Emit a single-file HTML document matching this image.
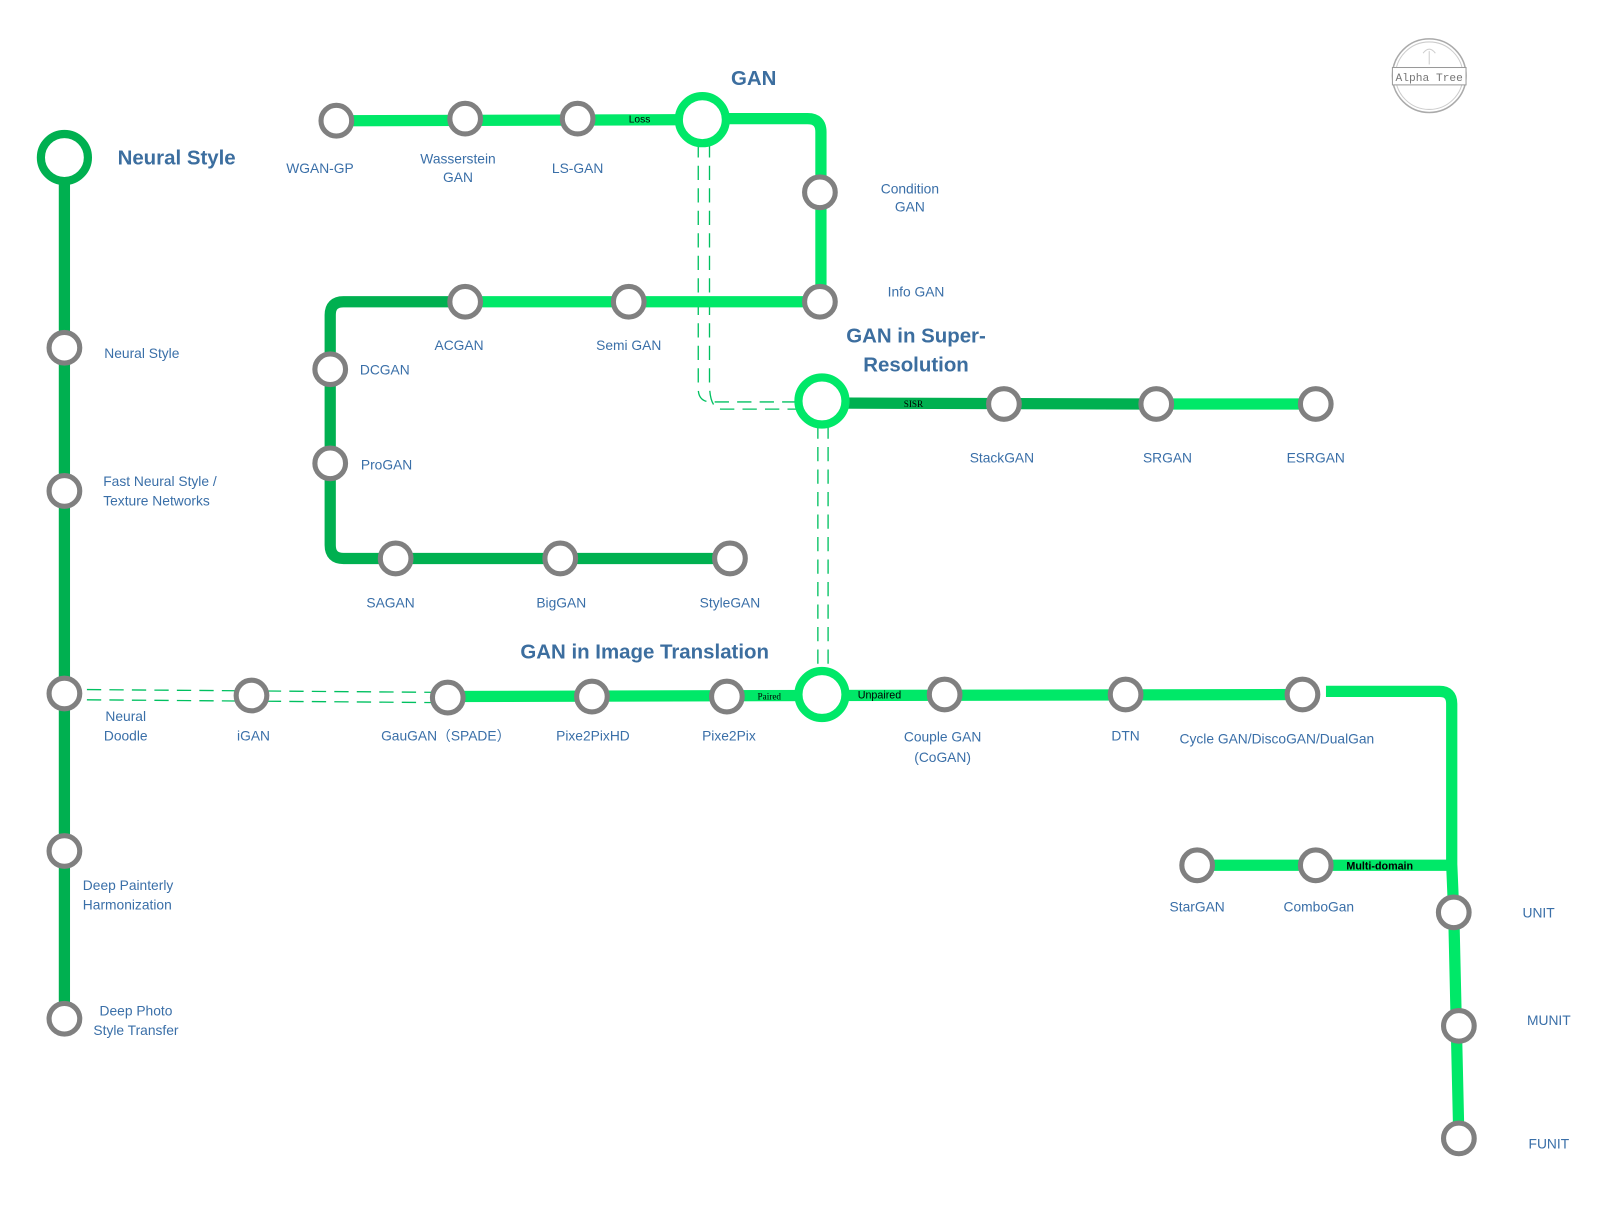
<!DOCTYPE html>
<html><head><meta charset="utf-8"><style>
html,body{margin:0;padding:0;background:#fff;}
svg{display:block;}
text{font-family:"Liberation Sans","Noto Sans CJK SC",sans-serif;}
.l{font-size:13.5px;fill:#3a6fa8;text-anchor:middle;}
.ls{font-size:13.5px;fill:#3a6fa8;}
.t{font-size:20px;font-weight:bold;fill:#3c6e9f;}
.n{fill:#fff;stroke:#808080;stroke-width:5;}
.b{fill:none;stroke:#00e868;stroke-width:11;}
.d{fill:none;stroke:#00b050;stroke-width:11;}
.dash{fill:none;stroke:#00c060;stroke-width:1.3;stroke-dasharray:14,8;}
.tag{font-size:10px;fill:#000;}
</style></head><body>
<svg width="1602" height="1210" viewBox="0 0 1567 1183" preserveAspectRatio="none" xmlns="http://www.w3.org/2000/svg">
<path class="dash" d="M63,674 L438,677"/>
<path class="dash" d="M63,684 L438,687"/>
<path class="dash" d="M683,140 L683,380 Q683,393 696,393 L790,393"/>
<path class="dash" d="M694,140 L694,375 Q694,400 706,400 L790,400"/>
<path class="dash" d="M800,415 L800,655"/>
<path class="dash" d="M810,415 L810,655"/>

<path class="d" d="M63,155 L63,995" stroke-width="10"/>
<path class="b" d="M329,118 L687,117"/>
<path class="b" d="M687,116 L790,116 Q803,116 803,129 L803,295"/>
<path class="b" d="M803,295 L455,295"/>
<path class="d" d="M455,295 L336,295 Q323,295 323,308 L323,533 Q323,546 336,546 L714,546"/>
<path class="d" d="M804,394 L1130,395"/>
<path class="b" d="M1130,395 L1287,395"/>
<path class="b" d="M438,681 L804,680 L1275,679"/>
<path class="b" d="M1297,676 L1408,676 Q1420,676 1420,688 L1420,845 L1422,893 L1427,1113"/>
<path class="b" d="M1170,846 L1420,846"/>

<circle cx="63" cy="154" r="23" fill="#fff" stroke="#00b050" stroke-width="8"/>
<circle cx="687" cy="117" r="23" fill="#fff" stroke="#00e868" stroke-width="8"/>
<circle cx="804" cy="392" r="23" fill="#fff" stroke="#00e868" stroke-width="8"/>
<circle cx="804" cy="679" r="23" fill="#fff" stroke="#00e868" stroke-width="8"/>

<g>
<circle class="n" cx="63" cy="340" r="15"/>
<circle class="n" cx="63" cy="480" r="15"/>
<circle class="n" cx="63" cy="678" r="15"/>
<circle class="n" cx="63" cy="832" r="15"/>
<circle class="n" cx="63" cy="996" r="15"/>
<circle class="n" cx="329" cy="118" r="15"/>
<circle class="n" cx="455" cy="116" r="15"/>
<circle class="n" cx="565" cy="116" r="15"/>
<circle class="n" cx="802" cy="188" r="15"/>
<circle class="n" cx="802" cy="295" r="15"/>
<circle class="n" cx="455" cy="295" r="15"/>
<circle class="n" cx="615" cy="295" r="15"/>
<circle class="n" cx="323" cy="361" r="15"/>
<circle class="n" cx="323" cy="453" r="15"/>
<circle class="n" cx="387" cy="546" r="15"/>
<circle class="n" cx="548" cy="546" r="15"/>
<circle class="n" cx="714" cy="546" r="15"/>
<circle class="n" cx="982" cy="395" r="15"/>
<circle class="n" cx="1131" cy="395" r="15"/>
<circle class="n" cx="1287" cy="395" r="15"/>
<circle class="n" cx="246" cy="680" r="15"/>
<circle class="n" cx="438" cy="682" r="15"/>
<circle class="n" cx="579" cy="681" r="15"/>
<circle class="n" cx="711" cy="681" r="15"/>
<circle class="n" cx="924" cy="679" r="15"/>
<circle class="n" cx="1101" cy="679" r="15"/>
<circle class="n" cx="1274" cy="679" r="15"/>
<circle class="n" cx="1171" cy="846" r="15"/>
<circle class="n" cx="1287" cy="846" r="15"/>
<circle class="n" cx="1422" cy="892" r="15"/>
<circle class="n" cx="1427" cy="1003" r="15"/>
<circle class="n" cx="1427" cy="1113" r="15"/>
</g>

<text class="tag" x="615" y="120">Loss</text>
<text class="tag" x="884" y="398" style="font-family:'Liberation Serif',serif;font-size:9px">SISR</text>
<text class="tag" x="741" y="684" style="font-family:'Liberation Serif',serif;font-size:9px">Paired</text>
<text class="tag" x="839" y="683" style="font-size:10.5px">Unpaired</text>
<text class="tag" x="1317" y="850" style="font-size:10.5px;font-weight:bold">Multi-domain</text>

<text class="t" x="115" y="161">Neural Style</text>
<text class="t" x="715" y="83">GAN</text>
<text class="t" x="896" y="335" text-anchor="middle">GAN in Super-</text>
<text class="t" x="896" y="363" text-anchor="middle">Resolution</text>
<text class="t" x="509" y="644">GAN in Image Translation</text>

<text class="ls" x="102" y="350">Neural Style</text>
<text class="ls" x="101" y="475">Fast Neural Style /</text>
<text class="ls" x="101" y="494">Texture Networks</text>
<text class="l" x="123" y="705">Neural</text>
<text class="l" x="123" y="724">Doodle</text>
<text class="ls" x="81" y="870">Deep Painterly</text>
<text class="ls" x="81" y="889">Harmonization</text>
<text class="l" x="133" y="993">Deep Photo</text>
<text class="l" x="133" y="1012">Style Transfer</text>
<text class="l" x="313" y="169">WGAN-GP</text>
<text class="l" x="448" y="160">Wasserstein</text>
<text class="l" x="448" y="178">GAN</text>
<text class="l" x="565" y="169">LS-GAN</text>
<text class="l" x="890" y="189">Condition</text>
<text class="l" x="890" y="207">GAN</text>
<text class="l" x="896" y="290">Info GAN</text>
<text class="l" x="449" y="342">ACGAN</text>
<text class="l" x="615" y="342">Semi GAN</text>
<text class="ls" x="352" y="366">DCGAN</text>
<text class="ls" x="353" y="459">ProGAN</text>
<text class="l" x="382" y="594">SAGAN</text>
<text class="l" x="549" y="594">BigGAN</text>
<text class="l" x="714" y="594">StyleGAN</text>
<text class="l" x="980" y="452">StackGAN</text>
<text class="l" x="1142" y="452">SRGAN</text>
<text class="l" x="1287" y="452">ESRGAN</text>
<text class="l" x="248" y="724">iGAN</text>
<text class="l" x="436" y="724">GauGAN（SPADE）</text>
<text class="l" x="580" y="724">Pixe2PixHD</text>
<text class="l" x="713" y="724">Pixe2Pix</text>
<text class="l" x="922" y="725">Couple GAN</text>
<text class="l" x="922" y="745">(CoGAN)</text>
<text class="l" x="1101" y="724">DTN</text>
<text class="l" x="1249" y="727">Cycle GAN/DiscoGAN/DualGan</text>
<text class="l" x="1171" y="891">StarGAN</text>
<text class="l" x="1290" y="891">ComboGan</text>
<text class="l" x="1505" y="897">UNIT</text>
<text class="l" x="1515" y="1002">MUNIT</text>
<text class="l" x="1515" y="1123">FUNIT</text>

<circle cx="1398" cy="74" r="36" fill="none" stroke="#aaa" stroke-width="1.5"/>
<circle cx="1398" cy="74" r="33" fill="none" stroke="#ccc" stroke-width="1"/>
<rect x="1362" y="66" width="72" height="17" fill="#fff" stroke="#999" stroke-width="1"/>
<text x="1398" y="79" text-anchor="middle" style="font-family:'Liberation Mono',monospace;font-size:11px;fill:#777">Alpha Tree</text>
<path d="M1398,63 L1398,50 M1392,52 Q1398,44 1404,52" stroke="#ccc" fill="none"/>
</svg>
</body></html>
